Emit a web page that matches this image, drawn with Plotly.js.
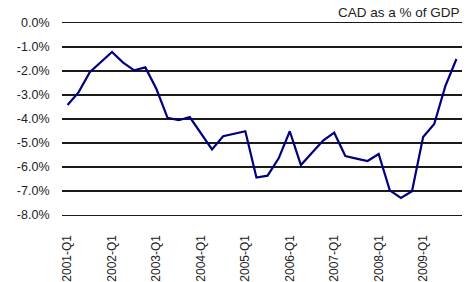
<!DOCTYPE html>
<html>
<head>
<meta charset="utf-8">
<script src="https://cdn.plot.ly/plotly-3.0.1.min.js"></script>
<style>html,body{margin:0;padding:0;background:#fff;}#chart{width:469px;height:282px;}</style>
</head>
<body>
<div id="chart"></div>
<script>
var quarters = [
  "2001-Q1","2001-Q2","2001-Q3","2001-Q4",
  "2002-Q1","2002-Q2","2002-Q3","2002-Q4",
  "2003-Q1","2003-Q2","2003-Q3","2003-Q4",
  "2004-Q1","2004-Q2","2004-Q3","2004-Q4",
  "2005-Q1","2005-Q2","2005-Q3","2005-Q4",
  "2006-Q1","2006-Q2","2006-Q3","2006-Q4",
  "2007-Q1","2007-Q2","2007-Q3","2007-Q4",
  "2008-Q1","2008-Q2","2008-Q3","2008-Q4",
  "2009-Q1","2009-Q2","2009-Q3","2009-Q4"
];
var cadPctGdp = [
  -3.42, -2.88, -2.05, -1.62,
  -1.21, -1.65, -1.97, -1.85,
  -2.75, -3.95, -4.05, -3.92,
  -4.60, -5.27, -4.72, -4.60,
  -4.51, -6.44, -6.36, -5.64,
  -4.51, -5.92, -5.42, -4.90,
  -4.57, -5.54, -5.65, -5.75,
  -5.46, -6.97, -7.29, -7.01,
  -4.75, -4.21, -2.63, -1.50
];
var xTickVals = ["2001-Q1","2002-Q1","2003-Q1","2004-Q1","2005-Q1","2006-Q1","2007-Q1","2008-Q1","2009-Q1"];
var yTickVals = [0, -1, -2, -3, -4, -5, -6, -7, -8];
var yTickText = ["0.0%","-1.0%","-2.0%","-3.0%","-4.0%","-5.0%","-6.0%","-7.0%","-8.0%"];
var chartTitle = "CAD as a % of GDP";

var trace = {
  x: quarters,
  y: cadPctGdp,
  type: "scatter",
  mode: "lines",
  line: {color: "#000080", width: 2.2},
  hoverinfo: "skip"
};

var layout = {
  width: 469,
  height: 282,
  margin: {l: 62, r: 7, t: 23.3, b: 67.3, pad: 0},
  paper_bgcolor: "#ffffff",
  plot_bgcolor: "#ffffff",
  showlegend: false,
  font: {family: "Liberation Sans, Arial, sans-serif", color: "#222222"},
  xaxis: {
    type: "category",
    range: [-0.5, 35.5],
    tickmode: "array",
    tickvals: xTickVals,
    ticktext: xTickVals,
    tickangle: -90,
    tickfont: {size: 12, color: "#222222"},
    ticks: "outside",
    ticklen: 14,
    tickcolor: "rgba(0,0,0,0)",
    showgrid: false,
    showline: true,
    mirror: true,
    linecolor: "#1a1a1a",
    linewidth: 1.2,
    zeroline: false,
    fixedrange: true
  },
  yaxis: {
    range: [-8, 0],
    tickmode: "array",
    tickvals: yTickVals,
    ticktext: yTickText,
    tickfont: {size: 12.5, color: "#222222"},
    ticks: "outside",
    ticklen: 9,
    tickcolor: "rgba(0,0,0,0)",
    showgrid: true,
    gridcolor: "#1a1a1a",
    gridwidth: 1.2,
    showline: false,
    zeroline: false,
    fixedrange: true
  },
  annotations: [{
    text: chartTitle,
    xref: "paper", yref: "paper",
    x: 1, y: 1,
    xanchor: "right", yanchor: "bottom",
    yshift: 1,
    showarrow: false,
    font: {size: 13.5, color: "#222222", family: "Liberation Sans, Arial, sans-serif"}
  }]
};

Plotly.newPlot("chart", [trace], layout, {displayModeBar: false, staticPlot: true});
</script>
</body>
</html>
